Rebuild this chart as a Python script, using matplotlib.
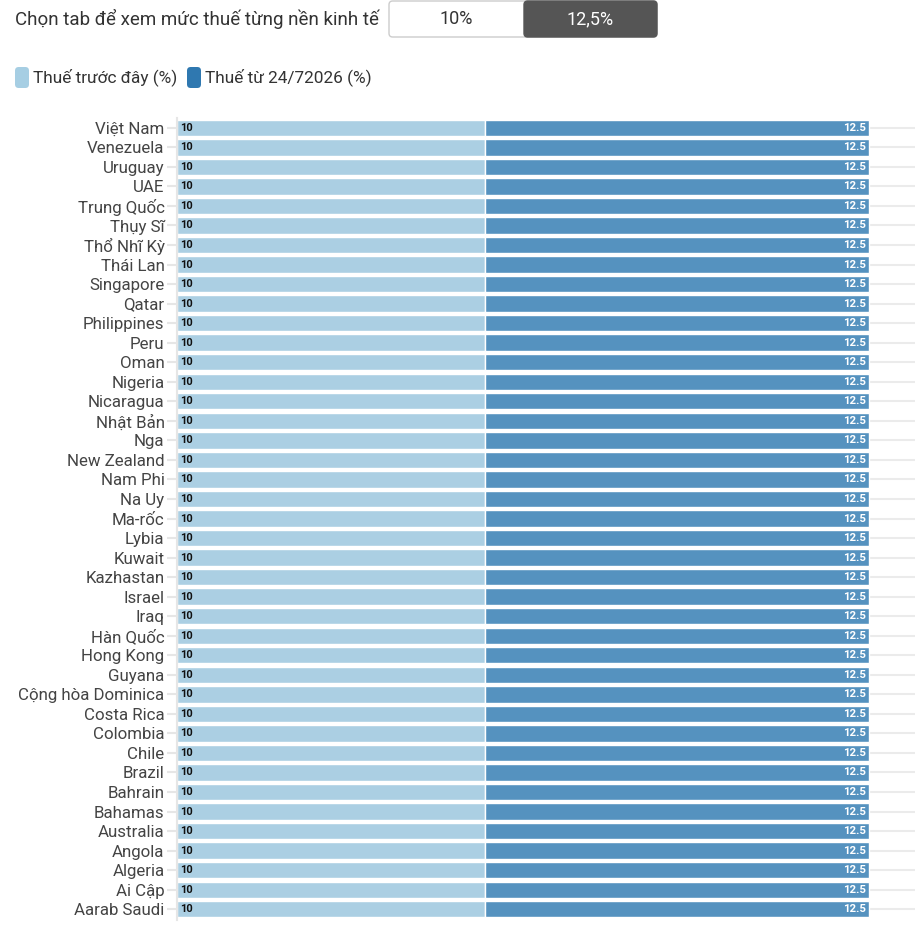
import matplotlib.pyplot as plt
from matplotlib.patches import FancyBboxPatch
import numpy as np

plt.rcParams['font.family'] = ['Roboto', 'DejaVu Sans']

countries = ['Việt Nam', 'Venezuela', 'Uruguay', 'UAE', 'Trung Quốc', 'Thụy Sĩ',
             'Thổ Nhĩ Kỳ', 'Thái Lan', 'Singapore', 'Qatar', 'Philippines', 'Peru',
             'Oman', 'Nigeria', 'Nicaragua', 'Nhật Bản', 'Nga', 'New Zealand',
             'Nam Phi', 'Na Uy', 'Ma-rốc', 'Lybia', 'Kuwait', 'Kazhastan', 'Israel',
             'Iraq', 'Hàn Quốc', 'Hong Kong', 'Guyana', 'Cộng hòa Dominica',
             'Costa Rica', 'Colombia', 'Chile', 'Brazil', 'Bahrain', 'Bahamas',
             'Australia', 'Angola', 'Algeria', 'Ai Cập', 'Aarab Saudi']
tax_before = [10] * len(countries)
tax_new = [12.5] * len(countries)

c_light = '#abcfe3'
c_dark = '#5592bf'

fig = plt.figure(figsize=(9.23, 9.25), dpi=100)
W, H = 923, 925

ax = fig.add_axes([177 / W, 1 - 920 / H, (915 - 177) / W, (920 - 118) / H])
y = np.arange(len(countries))

ax.barh(y, tax_before, height=0.84, color=c_light, edgecolor='white', linewidth=1, zorder=2)
ax.barh(y, tax_new, left=tax_before, height=0.84, color=c_dark, edgecolor='white', linewidth=1, zorder=2)

for i in range(len(countries)):
    ax.text(0.1, y[i], '{:g}'.format(tax_before[i]), ha='left', va='center',
            fontsize=8, fontweight='bold', color='#111111', zorder=3)
    ax.text(tax_before[i] + tax_new[i] - 0.08, y[i], '{:g}'.format(tax_new[i]),
            ha='right', va='center', fontsize=8.2, fontweight='bold', color='white', zorder=3)

ax.set_xlim(0, 24)
ax.set_ylim(len(countries) - 0.45, -0.5)
ax.set_yticks(y)
ax.set_yticklabels(countries, fontsize=12.2, color='#444444')
ax.tick_params(axis='y', length=7, color='#e6e6e6', width=1.5, pad=2)
ax.set_xticks([])
ax.grid(axis='y', color='#ebebeb', linewidth=1.5, zorder=0)
ax.set_axisbelow(True)
for s in ['top', 'right', 'bottom']:
    ax.spines[s].set_visible(False)
ax.spines['left'].set_color('#e6e6e6')
ax.spines['left'].set_linewidth(1.5)

# header with tab buttons
fig.text(15 / W, 1 - 19 / H, 'Chọn tab để xem mức thuế từng nền kinh tế',
         fontsize=13.5, color='#333333', va='center', ha='left')
fig.patches.append(FancyBboxPatch((389 / W, 1 - 37 / H), 268 / W, 36 / H,
                                  boxstyle='round,pad=0,rounding_size=0.004',
                                  transform=fig.transFigure, facecolor='white',
                                  edgecolor='#cccccc', linewidth=1))
fig.patches.append(FancyBboxPatch((524 / W, 1 - 37 / H), 133 / W, 36 / H,
                                  boxstyle='round,pad=0,rounding_size=0.004',
                                  transform=fig.transFigure, facecolor='#555555',
                                  edgecolor='#555555', linewidth=1))
fig.text(456 / W, 1 - 19 / H, '10%', fontsize=13, color='#333333', ha='center', va='center')
fig.text(590 / W, 1 - 19 / H, '12,5%', fontsize=13, color='white', ha='center', va='center')

# legend
legend_items = [('Thuế trước đây (%)', '#a6cee3', 15), ('Thuế từ 24/72026 (%)', '#2f78b0', 187)]
for label, col, x0 in legend_items:
    fig.patches.append(FancyBboxPatch((x0 / W, 1 - 88 / H), 14 / W, 21 / H,
                                      boxstyle='round,pad=0,rounding_size=0.004',
                                      transform=fig.transFigure, facecolor=col,
                                      edgecolor='none'))
    fig.text((x0 + 18) / W, 1 - 77 / H, label, fontsize=12.4, color='#333333',
             ha='left', va='center')

fig.savefig('out.png', dpi=100)
